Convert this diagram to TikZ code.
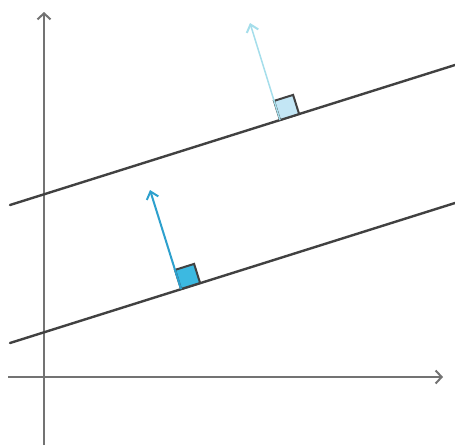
\documentclass[tikz,border=0pt]{standalone}
\usetikzlibrary{arrows.meta}
\definecolor{axisgray}{RGB}{115,115,115}
\definecolor{linegray}{RGB}{65,65,65}
\definecolor{arrowblue}{RGB}{45,160,205}
\definecolor{sqblue}{RGB}{60,185,225}
\definecolor{arrowpale}{RGB}{165,222,235}
\definecolor{sqpale}{RGB}{195,230,245}
\tikzset{
  axisline/.style={draw=axisgray, line width=2pt, -{Straight Barb[length=6pt,width=13pt,line width=2pt]}},
  sepline/.style={draw=linegray, line width=2.4pt, line cap=round},
  sqbox/.style={draw=linegray, line width=2pt, line join=miter},
  normarrow/.style={line width=2pt, -{Straight Barb[length=7pt,width=12pt,line width=2pt]}}
}
\begin{document}
\begin{tikzpicture}[x=1pt,y=-1pt]
\fill[white] (0,0) rectangle (455,445);
\useasboundingbox (0,0) rectangle (455,445);
% axes
\coordinate (yb) at (44,445);
\coordinate (yt) at (44,12);
\coordinate (xl) at (8,377);
\coordinate (xr) at (443,377);
\draw[axisline] (yb) -- (yt);
\draw[axisline] (xl) -- (xr);
% lines
\coordinate (u1) at (10,205);
\coordinate (u2) at (455,65);
\coordinate (l1) at (10,343);
\coordinate (l2) at (455,203);
\draw[sepline] (u1) -- (u2);
\draw[sepline] (l1) -- (l2);
% lower normal
\coordinate (lb) at (181,289);
\coordinate (lt) at (150,190);
\draw[sqbox, fill=sqblue] (lb) -- ++(19.1,-6) -- ++(-6,-19.1) -- ++(-19.1,6) -- cycle;
\draw[normarrow, draw=arrowblue] (lb) -- (lt);
% upper normal
\coordinate (ub) at (280,120);
\coordinate (ut) at (250,23);
\draw[sqbox, fill=sqpale] (ub) -- ++(19.1,-6) -- ++(-6,-19.1) -- ++(-19.1,6) -- cycle;
\draw[normarrow, draw=arrowpale, line width=1.5pt] (ub) -- (ut);
\end{tikzpicture}
\end{document}
